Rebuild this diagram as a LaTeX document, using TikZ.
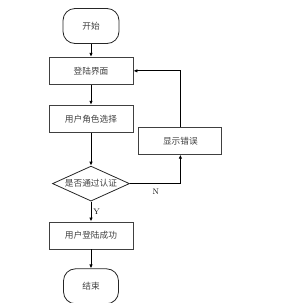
\documentclass[tikz,border=0pt]{standalone}
\usepackage{fontspec}
\newfontfamily\cjk{Noto Sans CJK SC}
\usetikzlibrary{shapes.geometric,arrows.meta,positioning}

\begin{document}
\begin{tikzpicture}[
    x=1pt, y=1pt,
    node distance=20pt,
    every node/.style={font=\cjk\fontsize{8.7}{10}\selectfont, text=black!75},
    proc/.style={rectangle, draw=black!75, line width=0.9pt, minimum width=84pt, minimum height=27pt, inner sep=2pt},
    term/.style={rectangle, rounded corners=12pt, draw=black!85, line width=0.8pt, minimum width=56pt, minimum height=35pt},
    dec/.style={diamond, draw=black!85, line width=0.8pt, minimum width=77pt, minimum height=35pt, inner sep=0pt, aspect=2.2},
    arrow/.style={-{Latex[length=4pt,width=3.5pt]}, line width=0.8pt},
    arrlab/.style={font=\fontsize{8}{9}\selectfont, text=black, inner sep=1pt},
]
    \useasboundingbox (0,0) rectangle (286,-303);

    % --- main column ---
    \node[term] (start) at (91,-26) {开始};
    \node[proc, below=13pt of start] (login) {登陆界面};
    \node[proc, below=20pt of login] (role) {用户角色选择};
    \node[dec, below=33pt of role] (auth) {是否通过认证};
    \node[proc, below=20pt of auth] (succ) {用户登陆成功};
    \node[term, below=19pt of succ, minimum width=55pt] (finish) {结束};

    % --- error branch ---
    \node[proc, right=5pt of role, yshift=-22pt, minimum width=83pt] (err) {显示错误};

    % --- Arrows ---
    \draw[arrow] (start) -- (login);
    \draw[arrow] (login) -- (role);
    \draw[arrow] (role) -- (auth);
    \draw[arrow] (auth) -- (succ) node[arrlab, pos=0.5, right, xshift=1pt] {Y};
    \draw[arrow] (succ) -- (finish);
    \draw[arrow] (auth.east) -| (err.south) node[arrlab, pos=0.5, below left, xshift=-20pt, yshift=-4pt] {N};
    \draw[arrow] (err.north) |- (login.east);

\end{tikzpicture}
\end{document}
